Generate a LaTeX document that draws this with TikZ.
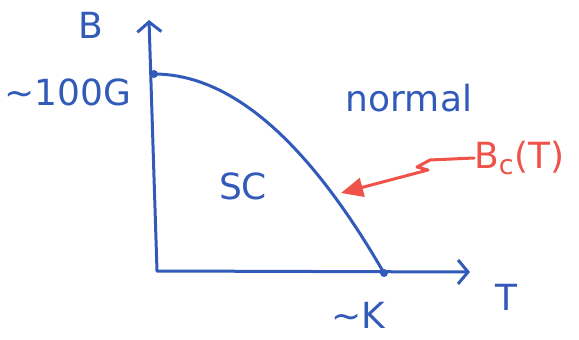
\documentclass[tikz,border=0pt]{standalone}
\usepackage{fontspec}
\setsansfont{DejaVu Sans}
\usetikzlibrary{arrows.meta,positioning,calc}
\definecolor{penblue}{RGB}{50,90,185}
\definecolor{penred}{RGB}{238,82,72}
\tikzset{AXIS/.style={penblue, line width=3pt, line cap=round, -{Straight Barb[length=10pt,width=24pt,line width=3pt]}}}
\tikzset{PEN/.style={penblue, line width=3pt, line cap=round}}
\tikzset{LABEL/.style={penblue, font=\sffamily\fontsize{36}{40}\selectfont, inner sep=0pt}}

\begin{document}
\begin{tikzpicture}[x=1pt, y=-1pt]
    \useasboundingbox (0,0) rectangle (579,340);

    \coordinate (origin) at (157,271);
    \coordinate (b_end) at (149,20);
    \coordinate (t_end) at (470,272);
    \coordinate (b_max) at (154,74);
    \coordinate (t_c) at (384,273);

    \draw[AXIS] (origin) -- (b_end);
    \draw[AXIS] (origin) -- (t_end);

    % critical field curve
    \draw[PEN, domain=0:1, samples=40] plot ({154+230*\x},{74+199*\x*\x});
    \fill[penblue] (b_max) circle (4pt);
    \fill[penblue] (t_c) circle (4pt);

    \node[LABEL] (l_b) at (91,25) {B};
    \node[LABEL] (l_bmax) at (68,92) {\textasciitilde100G};
    \node[LABEL] (l_t) at (506,297) {T};
    \node[LABEL] (l_tc) at (358,315) {\textasciitilde K};
    \node[LABEL] (l_normal) at (409,98) {normal};
    \node[LABEL] (l_sc) at (243,186) {SC};
    \node[LABEL, penred, anchor=west] (l_bc) at (474,158) {B\textsubscript{\fontsize{27}{30}\selectfont c}(T)};

    \coordinate (bc_tip) at (341,193);
    \draw[penred, line width=3pt, line cap=round, line join=round, -{Triangle[length=22pt,width=19pt]}]
        (l_bc.west) -- (430,160) -- (417,167) -- (428,170) -- (bc_tip);
\end{tikzpicture}
\end{document}
